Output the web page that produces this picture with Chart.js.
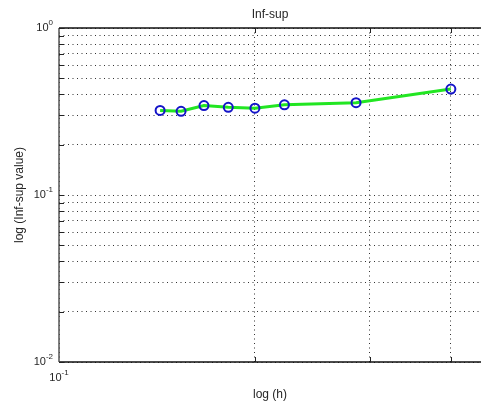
<!DOCTYPE html>
<html>
<head>
<meta charset="utf-8">
<script src="https://cdn.jsdelivr.net/npm/chart.js@4"></script>
<style>
  html, body { margin: 0; padding: 0; background: #fff; }
  canvas { display: block; }
</style>
</head>
<body>
<canvas id="infSupChart" width="481" height="407"></canvas>
<script>
// mesh size h and measured inf-sup constant
const hValues = [0.143, 0.154, 0.167, 0.182, 0.2, 0.222, 0.286, 0.4];
const infSupValues = [0.321, 0.317, 0.343, 0.335, 0.331, 0.347, 0.357, 0.431];

// grid ticks (log scale, matlab style)
const xGridValues = [0.1, 0.2, 0.3, 0.4];
const yGridValues = [0.01, 0.02, 0.03, 0.04, 0.05, 0.06, 0.07, 0.08, 0.09,
  0.1, 0.2, 0.3, 0.4, 0.5, 0.6, 0.7, 0.8, 0.9, 1];

// labelled ticks: base 10 with exponent
const xLabelValues = [0.1];
const xLabelExps = ["-1"];
const yLabelValues = [1, 0.1, 0.01];
const yLabelExps = ["0", "-1", "-2"];

const titleText = "Inf-sup";
const xTitle = "log (h)";
const yTitle = "log (Inf-sup value)";

const FONT = '"Liberation Sans", Arial, sans-serif';
const TEXT = "#262626";

function drawPow(ctx, left, mid, exp) {
  ctx.font = "11px " + FONT;
  ctx.textAlign = "left";
  ctx.textBaseline = "middle";
  ctx.fillText("10", left, mid);
  const w = ctx.measureText("10").width;
  ctx.font = "8px " + FONT;
  ctx.fillText(exp, left + w, mid - 5);
}

function powWidth(ctx, exp) {
  ctx.font = "11px " + FONT;
  const a = ctx.measureText("10").width;
  ctx.font = "8px " + FONT;
  return a + ctx.measureText(exp).width;
}

const matlabFrame = {
  id: "matlabFrame",
  afterDraw(chart) {
    const { ctx, chartArea: a, scales: { x, y } } = chart;
    ctx.save();

    // frame: top + bottom black, left grey
    ctx.strokeStyle = "#111";
    ctx.lineWidth = 1.5;
    ctx.beginPath();
    ctx.moveTo(a.left, a.top); ctx.lineTo(a.right, a.top);
    ctx.moveTo(a.left, a.bottom); ctx.lineTo(a.right, a.bottom);
    ctx.stroke();
    ctx.strokeStyle = "#555";
    ctx.beginPath();
    ctx.moveTo(a.left, a.top); ctx.lineTo(a.left, a.bottom);
    ctx.stroke();

    // inward tick marks
    ctx.strokeStyle = "#222";
    ctx.lineWidth = 1;
    ctx.beginPath();
    yGridValues.forEach(v => {
      const py = Math.round(y.getPixelForValue(v)) + 0.5;
      ctx.moveTo(a.left, py); ctx.lineTo(a.left + 5, py);
    });
    xGridValues.slice(1).forEach(v => {
      const px = Math.round(x.getPixelForValue(v)) + 0.5;
      ctx.moveTo(px, a.bottom); ctx.lineTo(px, a.bottom - 5);
      ctx.moveTo(px, a.top); ctx.lineTo(px, a.top + 5);
    });
    ctx.stroke();

    // tick labels
    ctx.fillStyle = TEXT;
    yLabelValues.forEach((v, i) => {
      const w = powWidth(ctx, yLabelExps[i]);
      drawPow(ctx, a.left - 6 - w, y.getPixelForValue(v), yLabelExps[i]);
    });
    xLabelValues.forEach((v, i) => {
      const w = powWidth(ctx, xLabelExps[i]);
      drawPow(ctx, x.getPixelForValue(v) - w / 2, a.bottom + 16, xLabelExps[i]);
    });

    // titles
    const cx = (a.left + a.right) / 2;
    ctx.font = "12px " + FONT;
    ctx.textAlign = "center";
    ctx.textBaseline = "middle";
    ctx.fillText(titleText, cx, 15);
    ctx.fillText(xTitle, cx, 395);
    ctx.translate(20, (a.top + a.bottom) / 2);
    ctx.rotate(-Math.PI / 2);
    ctx.fillText(yTitle, 0, 0);

    ctx.restore();
  }
};

new Chart(document.getElementById("infSupChart"), {
  type: "scatter",
  data: {
    datasets: [
      {
        data: hValues.map((h, i) => ({ x: h, y: infSupValues[i] })),
        showLine: true,
        borderColor: "#22e622",
        borderWidth: 3,
        pointRadius: 4.5,
        pointBorderWidth: 2,
        pointBorderColor: "#1414c8",
        pointBackgroundColor: "rgba(0,0,0,0)"
      }
    ]
  },
  options: {
    responsive: false,
    animation: false,
    layout: { autoPadding: false, padding: { left: 59, top: 28, right: 0, bottom: 45 } },
    plugins: {
      legend: { display: false },
      tooltip: { enabled: false },
      title: { display: false }
    },
    scales: {
      x: {
        type: "logarithmic",
        min: 0.1,
        max: 0.445,
        afterBuildTicks: s => { s.ticks = xGridValues.map(v => ({ value: v })); },
        ticks: { display: false },
        grid: { color: "#333", lineWidth: 1, drawTicks: false },
        border: { display: false, dash: [1, 3.5] }
      },
      y: {
        type: "logarithmic",
        min: 0.01,
        max: 1,
        afterBuildTicks: s => { s.ticks = yGridValues.map(v => ({ value: v })); },
        ticks: { display: false },
        grid: { color: "#333", lineWidth: 1, drawTicks: false },
        border: { display: false, dash: [1, 3.5] }
      }
    }
  },
  plugins: [matlabFrame]
});
</script>
</body>
</html>
